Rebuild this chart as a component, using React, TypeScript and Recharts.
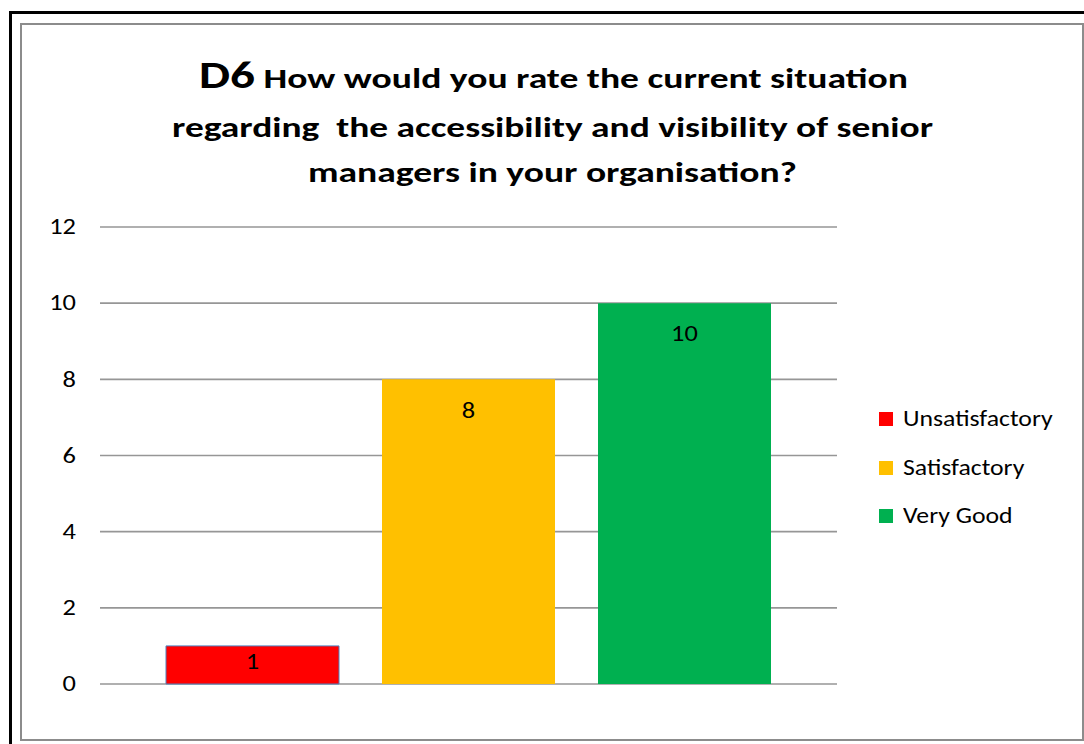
import React from 'react';
import { BarChart, Bar, XAxis, YAxis, CartesianGrid, LabelList } from 'recharts';

const titleLead = 'D6';
const titleLines = [
  'How would you rate the current situation',
  'regarding  the accessibility and visibility of senior',
  'managers in your organisation?',
];
const categories = ['D6'];
const seriesNames = ['Unsatisfactory', 'Satisfactory', 'Very Good'];
const seriesValues = [1, 8, 10];
const seriesColors = ['#FF0000', '#FFC000', '#00B050'];
const seriesStrokes = ['#4F81BD', 'none', 'none'];
const yTicks = [0, 2, 4, 6, 8, 10, 12];

const data = categories.map((c) => {
  const row: Record<string, any> = { name: c };
  seriesNames.forEach((s, i) => {
    row[s] = seriesValues[i];
  });
  return row;
});

const FONT = 'Carlito, Lato, sans-serif';
const SX = 1.2;

const renderLabel = (props: any) => {
  const { x, y, width, height, value } = props;
  const dy = height > 70 ? 31 : height / 2 - 3;
  return (
    <g transform={`translate(${x + width / 2},${y + dy}) scale(${SX},1)`}>
      <text
        x={0}
        y={0}
        textAnchor="middle"
        dominantBaseline="central"
        fontFamily={FONT}
        fontSize={22}
        fill="#000"
      >
        {value}
      </text>
    </g>
  );
};

const YTick = (props: any) => {
  const { x, y, payload } = props;
  return (
    <g transform={`translate(${x},${y}) scale(${SX},1)`}>
      <text
        x={0}
        y={0}
        textAnchor="end"
        dominantBaseline="central"
        fontFamily={FONT}
        fontSize={22}
        fill="#000"
      >
        {payload.value}
      </text>
    </g>
  );
};

export default function App() {
  return (
    <div
      style={{
        position: 'fixed',
        left: 0,
        top: 0,
        width: 1084,
        height: 744,
        overflow: 'hidden',
        background: '#fff',
        fontFamily: FONT,
      }}
    >
      <div
        style={{
          position: 'absolute',
          left: 9,
          top: 11,
          width: 1300,
          height: 1000,
          border: '3px solid #000',
          boxSizing: 'border-box',
        }}
      />
      <div
        style={{
          position: 'absolute',
          left: 20,
          top: 23,
          width: 1064,
          height: 718,
          border: '2px solid #8C8C8C',
          boxSizing: 'border-box',
          background: '#fff',
        }}
      />
      <div style={{ position: 'absolute', left: 0, top: 0 }}>
        <BarChart
          width={1084}
          height={744}
          data={data}
          margin={{ top: 227, right: 247, bottom: 60, left: 20 }}
          barSize={173}
          barGap={43}
        >
          <CartesianGrid vertical={false} stroke="#969696" strokeWidth={1.6} />
          <XAxis dataKey="name" hide />
          <YAxis
            width={80}
            domain={[0, 12]}
            ticks={yTicks}
            interval={0}
            axisLine={false}
            tickLine={false}
            tickSize={0}
            tickMargin={24}
            tick={<YTick />}
          />
          {seriesNames.map((s, i) => (
            <Bar
              key={s}
              dataKey={s}
              fill={seriesColors[i]}
              stroke={seriesStrokes[i]}
              strokeWidth={1}
              isAnimationActive={false}
            >
              <LabelList dataKey={s} content={renderLabel} />
            </Bar>
          ))}
        </BarChart>
      </div>
      <svg
        width={1084}
        height={220}
        style={{ position: 'absolute', left: 0, top: 0 }}
      >
        <text
          x={553.5}
          y={88}
          textAnchor="middle"
          fontFamily={FONT}
          fontWeight="bold"
          fontSize={29}
          fill="#000"
          textLength={709}
          lengthAdjust="spacingAndGlyphs"
        >
          <tspan fontSize={38}>{titleLead}</tspan>
          <tspan> {titleLines[0]}</tspan>
        </text>
        <text
          x={552.5}
          y={137}
          textAnchor="middle"
          fontFamily={FONT}
          fontWeight="bold"
          fontSize={29}
          fill="#000"
          textLength={761}
          lengthAdjust="spacingAndGlyphs"
          style={{ whiteSpace: 'pre' }}
        >
          {titleLines[1]}
        </text>
        <text
          x={552.5}
          y={182}
          textAnchor="middle"
          fontFamily={FONT}
          fontWeight="bold"
          fontSize={29}
          fill="#000"
          textLength={489}
          lengthAdjust="spacingAndGlyphs"
        >
          {titleLines[2]}
        </text>
      </svg>
      <div style={{ position: 'absolute', left: 879, top: 395 }}>
        {seriesNames.map((s, i) => (
          <div
            key={s}
            style={{
              display: 'flex',
              alignItems: 'center',
              height: 48.5,
            }}
          >
            <div
              style={{
                width: 14,
                height: 14,
                background: seriesColors[i],
                marginRight: 10,
                flex: 'none',
              }}
            />
            <span
              style={{
                fontSize: 22,
                color: '#000',
                lineHeight: '28px',
                display: 'inline-block',
                whiteSpace: 'nowrap',
                transform: 'scaleX(1.17)',
                transformOrigin: 'left center',
              }}
            >
              {s}
            </span>
          </div>
        ))}
      </div>
    </div>
  );
}
